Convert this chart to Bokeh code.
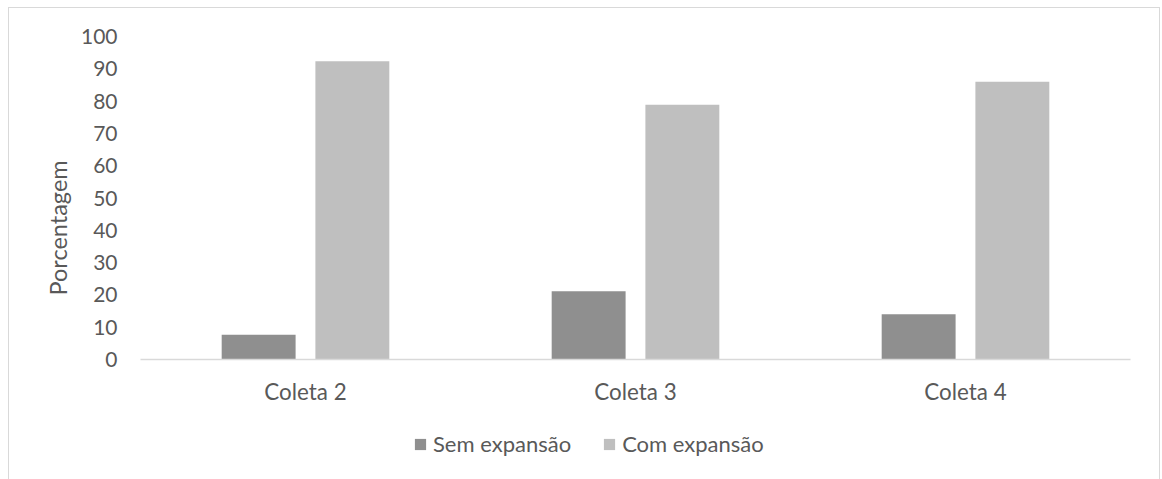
from bokeh.plotting import figure
from bokeh.layouts import column
from bokeh.models import FactorRange, Range1d, Legend, LegendItem, ColumnDataSource, Title
from bokeh.transform import dodge
from bokeh.embed import file_html
from bokeh.resources import INLINE

categories = ["Coleta 2", "Coleta 3", "Coleta 4"]
sem_expansao = [7.7, 21.1, 14.0]
com_expansao = [92.3, 78.9, 86.0]
series_names = ["Sem expansão", "Com expansão"]
series_colors = ["#8f8f8f", "#bfbfbf"]
y_ticks = list(range(0, 101, 10))
y_title = "Porcentagem"

FONT = "Lato"
TXT = "#595959"
OX, OY = 9, 8
W = 1150
H_MAIN = 401
H_LEG = 70
FRAME_LEFT = 140

source = ColumnDataSource(dict(cat=categories, sem=sem_expansao, com=com_expansao))

p = figure(x_range=FactorRange(*categories), y_range=(0, 100), width=W, height=H_MAIN,
           output_backend="svg", toolbar_location=None,
           min_border_left=FRAME_LEFT - OX, min_border_right=OX + W - 1130,
           min_border_top=36 - OY, min_border_bottom=OY + H_MAIN - 359)
p.outline_line_color = None
p.xgrid.grid_line_color = None
p.ygrid.grid_line_color = None

r1 = p.vbar(x=dodge("cat", -0.142, range=p.x_range), top="sem", width=0.224,
            source=source, fill_color=series_colors[0], line_color=None)
r2 = p.vbar(x=dodge("cat", 0.142, range=p.x_range), top="com", width=0.224,
            source=source, fill_color=series_colors[1], line_color=None)

p.yaxis.ticker = y_ticks
p.yaxis.axis_line_color = None
p.yaxis.major_tick_line_color = None
p.yaxis.minor_tick_line_color = None
p.yaxis.major_tick_in = 0
p.yaxis.major_tick_out = 0
p.yaxis.major_label_standoff = 23
p.yaxis.major_label_text_font = FONT
p.yaxis.major_label_text_font_size = "21px"
p.yaxis.major_label_text_color = TXT

p.add_layout(Title(text=y_title, align="left", offset=64, standoff=12,
                   text_font=FONT, text_font_size="23.5px", text_font_style="normal",
                   text_color=TXT), "left")

p.xaxis.axis_line_color = "#d9d9d9"
p.xaxis.axis_line_width = 1.3
p.xaxis.major_tick_line_color = None
p.xaxis.minor_tick_line_color = None
p.xaxis.major_tick_in = 0
p.xaxis.major_tick_out = 0
p.xaxis.major_label_standoff = 18
p.xaxis.major_label_text_font = FONT
p.xaxis.major_label_text_font_size = "22.4px"
p.xaxis.major_label_text_color = TXT

# legend strip below the chart (its bars fall outside its visible range)
p2 = figure(x_range=FactorRange(*categories), y_range=Range1d(1000, 1001),
            width=W, height=H_LEG, output_backend="svg", toolbar_location=None,
            x_axis_location=None, y_axis_location=None,
            min_border_left=0, min_border_right=0, min_border_top=0, min_border_bottom=0)
p2.outline_line_color = None
p2.xgrid.grid_line_color = None
p2.ygrid.grid_line_color = None
l1 = p2.vbar(x="cat", top="sem", width=0.2, source=source,
             fill_color=series_colors[0], line_color=None)
l2 = p2.vbar(x="cat", top="com", width=0.2, source=source,
             fill_color=series_colors[1], line_color=None)

legend = Legend(items=[LegendItem(label=series_names[0], renderers=[l1]),
                       LegendItem(label=series_names[1], renderers=[l2])],
                orientation="horizontal", location=(413 - FRAME_LEFT, 22),
                padding=0, margin=0, spacing=31, glyph_width=14, glyph_height=14,
                label_standoff=6, label_height=22,
                label_text_font=FONT, label_text_font_size="22px", label_text_color=TXT,
                border_line_color=None, background_fill_alpha=0)
p2.add_layout(legend)

layout = column(p, p2, spacing=0, margin=(7, 0, 0, 8),
                styles={"border-top": "1px solid #d9d9d9", "border-left": "1px solid #d9d9d9",
                        "border-right": "1px solid #d9d9d9"})

open("out.html", "w").write(file_html(layout, INLINE))
